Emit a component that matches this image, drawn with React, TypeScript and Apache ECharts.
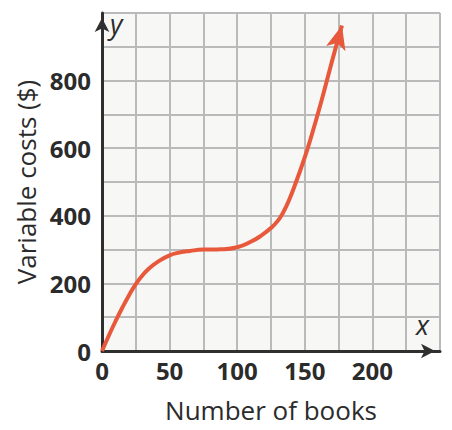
import React, { useEffect, useRef } from "react";
import * as echarts from "echarts";

const books = [0, 5, 10, 15, 20, 25, 30, 35, 42, 50, 57, 65, 75, 88, 100, 110, 118, 125, 130, 134, 138, 144, 148, 152, 157, 162, 167, 172, 177.5];
const costs = [0, 45, 88, 128, 165, 198, 224, 245, 266, 283, 291, 296, 300, 301, 307, 323, 342, 364, 385, 410, 443, 505, 550, 598, 665, 735, 810, 885, 963];
const xTickLabels = [0, 50, 100, 150, 200];
const yTickLabels = [0, 200, 400, 600, 800];

export default function App() {
  const ref = useRef<HTMLDivElement>(null);
  useEffect(() => {
    if (!ref.current) return;
    const chart = echarts.init(ref.current, null, { renderer: "svg" });
    const n = books.length;
    const data = books.map((b, i) =>
      i === n - 1
        ? { value: [b, costs[i]], symbol: "arrow", symbolSize: [15, 24], symbolRotate: -15 }
        : { value: [b, costs[i]], symbol: "none" }
    );
    chart.setOption({
      animation: false,
      backgroundColor: "#ffffff",
      grid: {
        left: 102,
        right: 12,
        top: 13,
        bottom: 79,
        show: true,
        backgroundColor: "#f7f7f6",
        borderWidth: 0,
      },
      xAxis: {
        type: "value",
        min: 0,
        max: 250,
        interval: 25,
        name: "Number of books",
        nameLocation: "middle",
        nameGap: 46,
        nameTextStyle: { fontFamily: "Open Sans", fontSize: 26, color: "#2b2b2b" },
        axisLine: {
          show: true,
          symbol: ["none", "arrow"],
          symbolSize: [11, 14],
          symbolOffset: [0, -5],
          lineStyle: { color: "#2f2f2f", width: 3 },
        },
        axisTick: { show: false },
        splitLine: { show: true, lineStyle: { color: "#bababa", width: 2 } },
        axisLabel: {
          margin: 7,
          fontFamily: "Open Sans",
          fontWeight: "bold",
          fontSize: 24,
          color: "#2b2b2b",
          formatter: (v: number) => (xTickLabels.includes(v) ? String(v) : ""),
        },
      },
      yAxis: {
        type: "value",
        min: 0,
        max: 1000,
        interval: 100,
        name: "Variable costs ($)",
        nameLocation: "middle",
        nameRotate: 90,
        nameGap: 59,
        nameTextStyle: { fontFamily: "Open Sans", fontSize: 26, color: "#2b2b2b" },
        axisLine: {
          show: true,
          symbol: ["none", "arrow"],
          symbolSize: [11, 14],
          symbolOffset: [0, -5],
          lineStyle: { color: "#2f2f2f", width: 3 },
        },
        axisTick: { show: false },
        splitLine: { show: true, lineStyle: { color: "#bababa", width: 2 } },
        axisLabel: {
          margin: 11,
          fontFamily: "Open Sans",
          fontWeight: "bold",
          fontSize: 24,
          color: "#2b2b2b",
          formatter: (v: number) => (yTickLabels.includes(v) ? String(v) : ""),
        },
      },
      graphic: [
        {
          type: "text",
          left: 110,
          top: 10,
          style: { text: "y", fontFamily: "Open Sans", fontStyle: "italic", fontSize: 27, fill: "#2b2b2b" },
        },
        {
          type: "text",
          left: 416,
          top: 311,
          style: { text: "x", fontFamily: "Open Sans", fontStyle: "italic", fontSize: 27, fill: "#2b2b2b" },
        },
      ],
      series: [
        {
          type: "line",
          data,
          smooth: 0.5,
          showSymbol: true,
          lineStyle: { color: "#e8583a", width: 4 },
          itemStyle: { color: "#e8583a" },
          z: 5,
        },
      ],
    });
    return () => chart.dispose();
  }, []);
  return <div ref={ref} style={{ position: "fixed", left: 0, top: 0, width: 452, height: 430 }} />;
}
